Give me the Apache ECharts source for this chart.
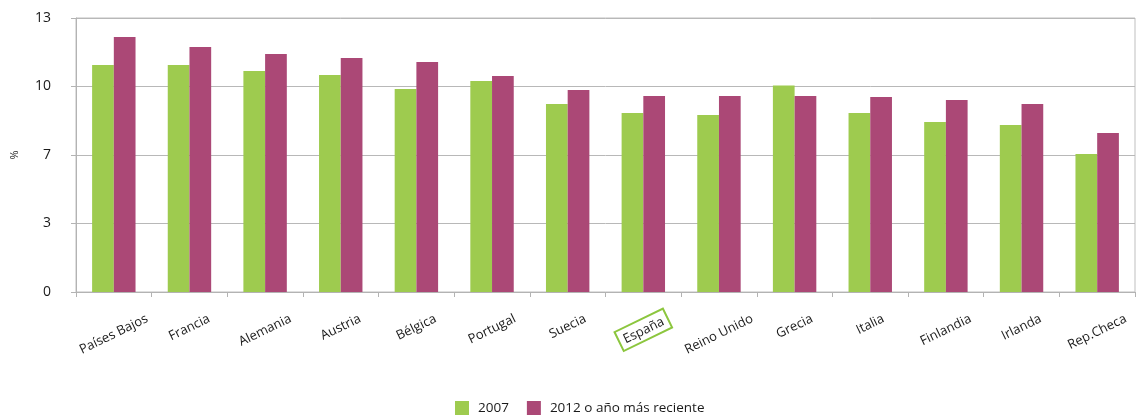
<!DOCTYPE html>
<html>
<head>
<meta charset="utf-8">
<script src="https://cdn.jsdelivr.net/npm/echarts@6/dist/echarts.min.js"></script>
<style>
html,body{margin:0;padding:0;background:#fff;}
#chart{width:1136px;height:416px;}
</style>
</head>
<body>
<div id="chart"></div>
<script>
// Countries, ordered by the latest value
const countries = ['Países Bajos','Francia','Alemania','Austria','Bélgica','Portugal','Suecia','España','Reino Unido','Grecia','Italia','Finlandia','Irlanda','Rep.Checa'];
const values2007 = [10.77, 10.77, 10.49, 10.30, 9.63, 10.01, 8.92, 8.49, 8.40, 9.80, 8.49, 8.07, 7.92, 6.55];
const valuesRecent = [12.10, 11.62, 11.29, 11.10, 10.91, 10.25, 9.58, 9.30, 9.30, 9.30, 9.25, 9.11, 8.92, 7.54];
const seriesNames = ['2007', '2012 o año más reciente'];
const highlighted = 'España';

const fontFamily = '"Open Sans", "Liberation Sans", sans-serif';
const labelSize = 13;
const labelLine = 17;
const angle = 26;
const hlPad = [3, 5, 1, 5];

// Rotated category labels are centred under their category with a common top edge:
// each label gets a spacer token that shifts the text inside the rotated box.
const ctx = document.createElement('canvas').getContext('2d');
ctx.font = labelSize + 'px ' + fontFamily;
const sin = Math.sin(angle * Math.PI / 180), cos = Math.cos(angle * Math.PI / 180);
const rich = {
  t: { fontFamily, fontSize: labelSize, color: '#1a1a1a', lineHeight: labelLine, height: labelLine, verticalAlign: 'bottom' },
  hl: { fontFamily, fontSize: labelSize, color: '#1a1a1a', lineHeight: labelLine, height: labelLine,
        borderColor: '#8cc63e', borderWidth: 2, padding: hlPad, verticalAlign: 'bottom' }
};
countries.forEach((name, i) => {
  const isHl = name === highlighted;
  const w = ctx.measureText(name).width + (isHl ? hlPad[1] + hlPad[3] : 0);
  const h = labelLine + (isHl ? hlPad[0] + hlPad[2] : 0);
  const shift = w * sin * cos;
  rich['s' + i] = { width: w * sin * sin, height: h + shift, lineHeight: h + shift };
});

const chart = echarts.init(document.getElementById('chart'));

chart.setOption({
  animation: false,
  textStyle: { fontFamily },
  grid: {
    left: 76, right: 1, top: 18, bottom: 124,
    outerBoundsMode: 'none', containLabel: false,
    show: true, borderColor: '#bfbfbf', borderWidth: 1
  },
  legend: {
    bottom: -4, left: 450,
    itemWidth: 14, itemHeight: 14, itemGap: 18,
    icon: 'rect',
    textStyle: { fontFamily, fontSize: 13.5, color: '#1a1a1a', padding: [0, 0, 0, 4] },
    data: seriesNames
  },
  xAxis: {
    type: 'category',
    data: countries,
    axisLine: { lineStyle: { color: '#b3b3b3' } },
    axisTick: { show: true, length: 5, lineStyle: { color: '#b3b3b3' } },
    axisLabel: {
      interval: 0, rotate: angle, margin: 26,
      align: 'center', verticalAlign: 'middle',
      formatter: (v, i) => (v === highlighted ? '{hl|' + v + '}' : '{t|' + v + '}') + '{s' + i + '|}',
      rich
    }
  },
  yAxis: {
    type: 'value',
    min: 0, max: 13, interval: 3.25,
    name: '%', nameLocation: 'middle', nameGap: 56, nameRotate: 90,
    nameTextStyle: { fontFamily, fontSize: 11, color: '#1a1a1a' },
    axisLine: { show: true, lineStyle: { color: '#b3b3b3' } },
    axisTick: { show: true, length: 5, lineStyle: { color: '#b3b3b3' } },
    splitLine: { lineStyle: { color: '#b8b8b8' } },
    axisLabel: {
      fontFamily, fontSize: 14, color: '#1a1a1a', margin: 25,
      formatter: v => String(Math.round(v))
    }
  },
  series: [
    { name: seriesNames[0], type: 'bar', data: values2007, barWidth: '28.7%', barGap: '0%', itemStyle: { color: '#9ecb4f' } },
    { name: seriesNames[1], type: 'bar', data: valuesRecent, barWidth: '28.7%', itemStyle: { color: '#ab4876' } }
  ]
});
</script>
</body>
</html>
